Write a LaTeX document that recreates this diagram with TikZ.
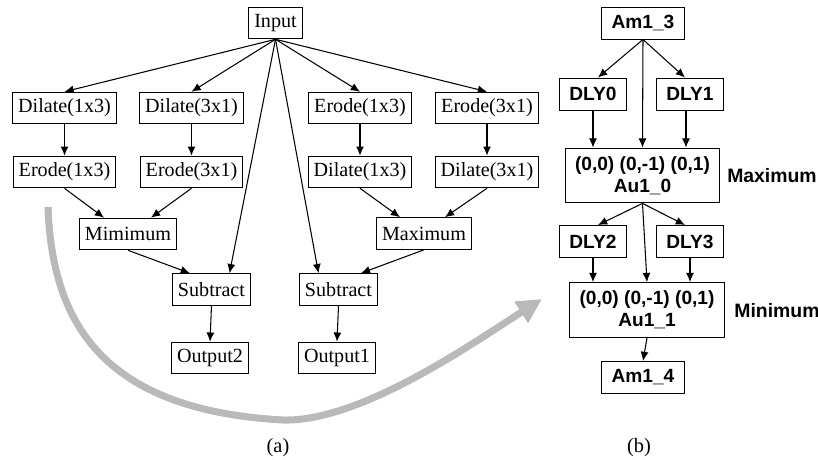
\documentclass[tikz,border=0pt]{standalone}
\usepackage{fontspec}
\setmainfont{Liberation Serif}
\setsansfont{Liberation Sans}
\usetikzlibrary{arrows.meta}

\begin{document}
\begin{tikzpicture}[x=0.025cm, y=-0.025cm, >={Latex[length=2.3mm, width=2mm]},
  op/.style={draw, line width=0.7pt, minimum height=7.9mm, inner xsep=4pt,
    font=\fontsize{14.3}{16}\selectfont},
  cell/.style={draw, line width=0.7pt, minimum height=8mm, inner xsep=7pt,
    font=\sffamily\bfseries\fontsize{13.6}{15.5}\selectfont},
  pe/.style={cell, minimum width=37.2mm, minimum height=13.7mm, align=center},
  link/.style={->, line width=0.75pt},
  tag/.style={font=\sffamily\bfseries\fontsize{13.8}{15.5}\selectfont},
  figcap/.style={font=\fontsize{14.5}{16}\selectfont}]

\useasboundingbox (0,0) rectangle (818,460);

% ---- (a) the morphology graph ----------------------------------------------------
\node[op] (input) at (275.5,23) {Input};

\node[op] (dilA) at (64.5,108) {Dilate(1x3)};
\node[op] (dilB) at (191.5,108) {Dilate(3x1)};
\node[op] (eroC) at (360,108)  {Erode(1x3)};
\node[op] (eroD) at (487,108)  {Erode(3x1)};

\node[op] (eroA) at (64.5,172) {Erode(1x3)};
\node[op] (eroB) at (191.5,172) {Erode(3x1)};
\node[op] (dilC) at (360,172)  {Dilate(1x3)};
\node[op] (dilD) at (487,172)  {Dilate(3x1)};

\node[op] (mini) at (128,234)   {Mimimum};
\node[op] (maxi) at (424,233.5) {Maximum};

\node[op] (subL) at (211.5,289.5) {Subtract};
\node[op] (subR) at (338.5,289.5) {Subtract};

\node[op] (out2) at (210,358) {Output2};
\node[op] (out1) at (337,358) {Output1};

\node[figcap] (capA) at (278,448) {(a)};

\draw[link] (input.south) -- (dilA.north);
\draw[link] (input.south) -- (dilB.north);
\draw[link] (input.south) -- (eroC.north);
\draw[link] (input.south) -- (eroD.north);
\draw[link] (input.south) -- ([xshift=4.5mm]subL.north);
\draw[link] (input.south) -- ([xshift=-5mm]subR.north);

\draw[link] (dilA.south) -- (eroA.north);
\draw[link] (dilB.south) -- (eroB.north);
\draw[link] (eroC.south) -- (dilC.north);
\draw[link] (eroD.south) -- (dilD.north);

\draw[link] (eroA.south) -- ([xshift=-6mm]mini.north);
\draw[link] (eroB.south) -- ([xshift=5.75mm]mini.north);
\draw[link] (dilC.south) -- ([xshift=-6mm]maxi.north);
\draw[link] (dilD.south) -- ([xshift=5.25mm]maxi.north);

\draw[link] (mini.south) -- ([xshift=-5.4mm]subL.north);
\draw[link] (maxi.south) -- ([xshift=5.6mm]subR.north);

\draw[link] (subL.south) -- (out2.north);
\draw[link] (subR.south) -- (out1.north);

% ---- the big grey arrow from (a) to (b) -------------------------------------------
\coordinate (gstart) at (48,207);
\coordinate (gbot)   at (283,420);
\coordinate (gend)   at (542,299);
\draw[gray!55, line width=5pt, -{Triangle[length=6.2mm, width=6mm]}]
  (gstart) .. controls (52,320) and (100,410) .. (gbot)
           .. controls (360,422) and (470,345) .. (gend);

% ---- (b) the cell array ----------------------------------------------------------
\node[cell] (am13) at (643,23) {Am1\_3};
\node[cell] (dly0) at (593,94) {DLY0};
\node[cell] (dly1) at (690,94) {DLY1};
\node[pe]   (au0)  at (642.5,175.5) {(0,0) (0,-1) (0,1)\\Au1\_0};
\node[tag]  (lmax) at (772,176) {Maximum};

\node[cell] (dly2) at (593,241.5) {DLY2};
\node[cell] (dly3) at (690,241.5) {DLY3};
\node[pe]   (au1)  at (647,310) {(0,0) (0,-1) (0,1)\\Au1\_1};
\node[tag]  (lmin) at (777,311) {Minimum};

\node[cell] (am14) at (643,377.5) {Am1\_4};

\node[figcap] (capB) at (639,448) {(b)};

\draw[link] (am13.south) -- ([xshift=1.25mm]dly0.north);
\draw[link] (am13.south) -- ([xshift=-1.25mm]dly1.north);
\draw[link] (am13.south) -- (au0.north);
\draw[link] (dly0.south) -- (dly0.south |- au0.north);
\draw[link] ([xshift=-1mm]dly1.south) -- ([xshift=-1mm]dly1.south |- au0.north);

\draw[link] (au0.south) -- ([xshift=1.25mm]dly2.north);
\draw[link] (au0.south) -- ([xshift=-1.25mm]dly3.north);
\draw[link] (au0.south) -- (au1.north);
\draw[link] (dly2.south) -- (dly2.south |- au1.north);
\draw[link] (dly3.south) -- (dly3.south |- au1.north);

\draw[link] (au1.south) -- (am14.north);

\end{tikzpicture}
\end{document}
